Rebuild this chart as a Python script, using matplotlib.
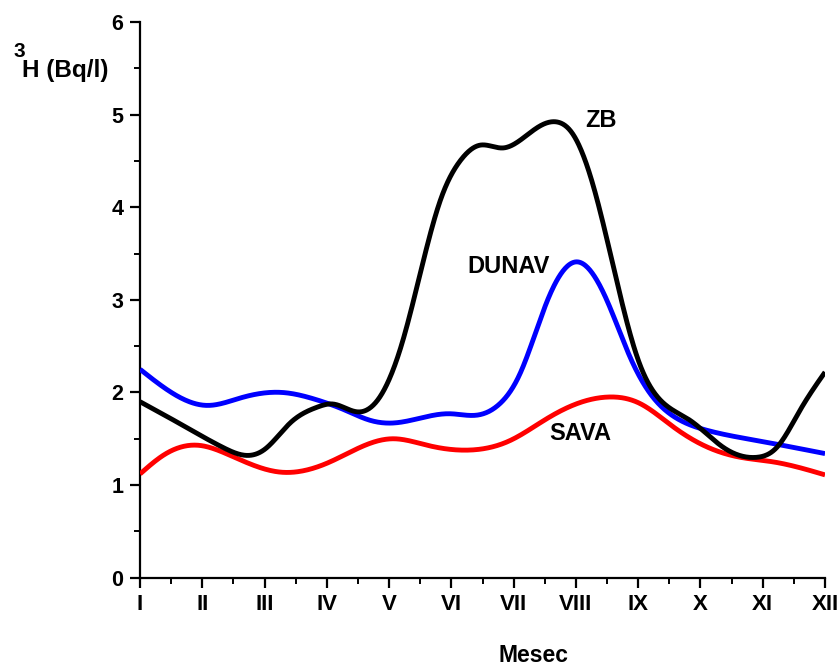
import numpy as np
import matplotlib
matplotlib.use("Agg")
import matplotlib.pyplot as plt
from matplotlib.ticker import MultipleLocator

month_labels = ["I", "II", "III", "IV", "V", "VI", "VII", "VIII", "IX", "X", "XI", "XII"]

# values, x in months (1 = I ... 12 = XII)
zb_x = [1.00, 1.70, 2.35, 2.73, 3.01, 3.41, 3.84, 4.10, 4.50, 4.85, 5.22,
        5.82, 6.14, 6.46, 6.83, 7.38, 7.70, 7.95, 8.27, 9.00, 9.30, 9.83, 10.36,
        10.91, 11.23, 11.60, 12.00]
zb_y = [1.90, 1.64, 1.40, 1.32, 1.39, 1.67, 1.84, 1.875, 1.79, 1.95, 2.56,
        4.07, 4.50, 4.67, 4.64, 4.86, 4.92, 4.79, 4.25, 2.35, 1.96, 1.70, 1.41,
        1.30, 1.41, 1.81, 2.22]

dunav_x = [1.00, 1.37, 2.08, 2.61, 3.28, 3.84, 4.29, 4.69, 5.06, 5.98, 6.41, 6.78,
           7.10, 7.54, 8.02, 8.50, 8.87, 9.19, 9.62, 10.11, 10.91, 12.00]
dunav_y = [2.25, 2.06, 1.86, 1.94, 2.00, 1.92, 1.81, 1.70, 1.67, 1.77, 1.755, 1.88,
           2.20, 2.99, 3.41, 2.99, 2.38, 1.99, 1.72, 1.59, 1.48, 1.34]

sava_x = [1.00, 1.37, 1.93, 2.45, 3.25, 4.05, 4.69, 5.06, 5.61, 6.35, 6.94, 7.54,
          8.02, 8.50, 9.03, 9.56, 10.11, 10.64, 11.17, 12.00]
sava_y = [1.12, 1.32, 1.43, 1.32, 1.14, 1.25, 1.45, 1.50, 1.43, 1.38, 1.48, 1.72,
          1.88, 1.95, 1.88, 1.63, 1.41, 1.30, 1.25, 1.11]


def spline_curve(x, y, n=40):
    # natural cubic spline through the read points, only for drawing
    x = np.asarray(x, float)
    y = np.asarray(y, float)
    k = len(x)
    h = np.diff(x)
    A = np.zeros((k, k))
    r = np.zeros(k)
    A[0, 0] = A[-1, -1] = 1.0
    for i in range(1, k - 1):
        A[i, i - 1] = h[i - 1]
        A[i, i] = 2 * (h[i - 1] + h[i])
        A[i, i + 1] = h[i]
        r[i] = 6 * ((y[i + 1] - y[i]) / h[i] - (y[i] - y[i - 1]) / h[i - 1])
    M = np.linalg.solve(A, r)
    xs, ys = [], []
    t = np.linspace(0, 1, n, endpoint=False)
    for i in range(k - 1):
        xx = x[i] + t * h[i]
        a = x[i + 1] - xx
        b = xx - x[i]
        yy = (M[i] * a**3 + M[i + 1] * b**3) / (6 * h[i]) \
            + (y[i] / h[i] - M[i] * h[i] / 6) * a \
            + (y[i + 1] / h[i] - M[i + 1] * h[i] / 6) * b
        xs.append(xx)
        ys.append(yy)
    xs.append([x[-1]])
    ys.append([y[-1]])
    return np.concatenate(xs), np.concatenate(ys)


plt.rcParams['font.family'] = ['Liberation Sans', 'DejaVu Sans']
plt.rcParams['font.weight'] = 'bold'

fig = plt.figure(figsize=(8.4, 6.66), dpi=100)
ax = fig.add_axes([0.1667, 0.1326, 0.8155, 0.8344])

for xs, ys, col in ((sava_x, sava_y, '#ff0000'), (dunav_x, dunav_y, '#0000ff'),
                    (zb_x, zb_y, '#000000')):
    cx, cy = spline_curve(xs, ys)
    ax.plot(cx, cy, color=col, linewidth=3.5, solid_capstyle='butt',
            solid_joinstyle='round', zorder=3)

ax.set_xlim(1, 12)
ax.set_ylim(0, 6)
ax.spines['top'].set_visible(False)
ax.spines['right'].set_visible(False)
for s in ('left', 'bottom'):
    ax.spines[s].set_linewidth(1.6)

ax.set_xticks(np.arange(1, 13))
ax.set_xticklabels(month_labels, fontsize=16, fontweight='bold')
ax.xaxis.set_minor_locator(MultipleLocator(0.5))
ax.yaxis.set_major_locator(MultipleLocator(1))
ax.yaxis.set_minor_locator(MultipleLocator(0.5))
ax.tick_params(axis='both', which='major', direction='out', length=7, width=1.6)
ax.tick_params(axis='both', which='minor', direction='out', length=4, width=1.4)
ax.tick_params(axis='y', which='major', labelsize=15.5, pad=5)
ax.tick_params(axis='x', which='major', pad=5)
for lab in ax.get_yticklabels():
    lab.set_fontweight('bold')

# series labels
ax.text(8.41, 4.94, 'ZB', fontsize=17, fontweight='bold', ha='center', va='center')
ax.text(6.91, 3.355, 'DUNAV', fontsize=17, fontweight='bold', ha='center', va='center')
ax.text(8.07, 1.555, 'SAVA', fontsize=17, fontweight='bold', ha='center', va='center')

# axis titles
fig.text(533 / 840, 1 - 656 / 666, 'Mesec', fontsize=16.5, fontweight='bold',
         ha='center', va='center')
fig.text(13 / 840, 1 - 57 / 666, '3', fontsize=15, fontweight='bold', ha='left', va='baseline')
fig.text(22 / 840, 1 - 77 / 666, 'H (Bq/l)', fontsize=17.5, fontweight='bold',
         ha='left', va='baseline')

fig.savefig('out.png', dpi=100)
